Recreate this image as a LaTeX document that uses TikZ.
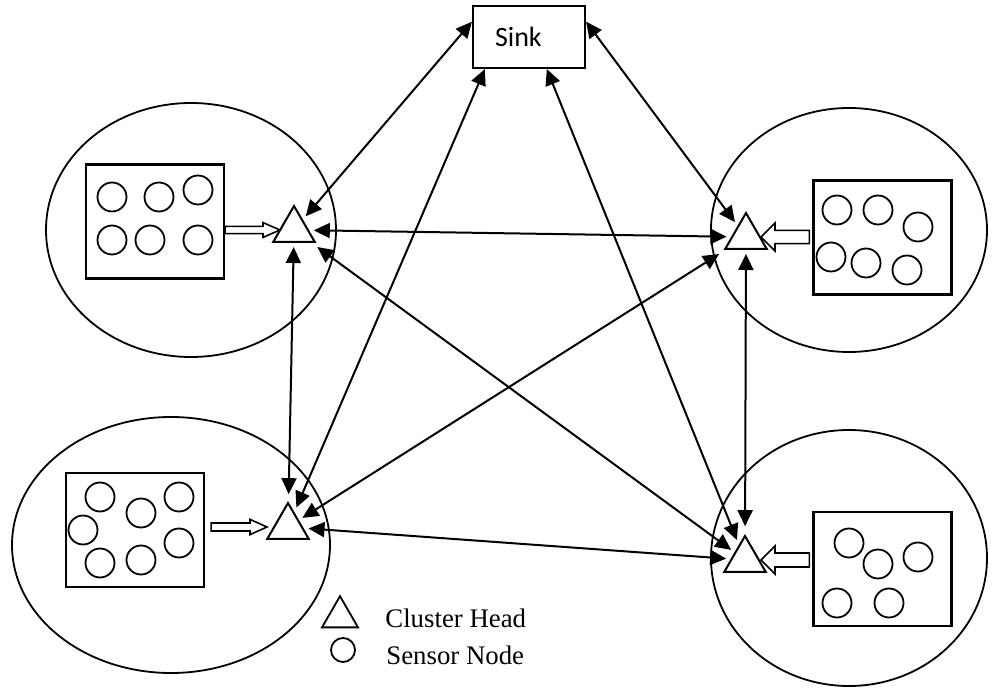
\documentclass[tikz,border=0pt]{standalone}
\usepackage{fontspec}
\setmainfont{Liberation Serif}
\newfontfamily\sinkfont{Carlito}
\usetikzlibrary{arrows.meta,shapes.geometric,calc}

\newcommand{\hollowarrow}[5]{%
  \draw[line width=0.8pt, fill=white] let \p1=#1, \p2=#2 in
    ({\x1},{\y1+#3}) -- ({\x2-(#5)},{\y1+#3}) -- ({\x2-(#5)},{\y1+#4}) -- ({\x2},{\y1})
    -- ({\x2-(#5)},{\y1-#4}) -- ({\x2-(#5)},{\y1-#3}) -- ({\x1},{\y1-#3}) -- cycle;}

\begin{document}
\begin{tikzpicture}[x=0.5pt, y=-0.5pt,
  boxnode/.style={draw, line width=1.1pt, minimum width=69pt, minimum height=57pt, inner sep=0pt},
  headnode/.style={draw, line width=1pt, regular polygon, regular polygon sides=3, minimum size=24pt, inner sep=0pt, outer sep=2.5pt},
  link/.style={{Triangle[length=8pt,width=7.5pt]}-{Triangle[length=8pt,width=7.5pt]}, line width=1pt}]

\useasboundingbox (0,0) rectangle (992,689);

\draw[line width=0.9pt] (191,230) ellipse [x radius=145, y radius=127];
\draw[line width=0.9pt] (849,230) ellipse [x radius=138, y radius=122];
\draw[line width=0.9pt] (171,545) ellipse [x radius=159, y radius=128];
\draw[line width=0.9pt] (849,558) ellipse [x radius=138, y radius=128];

\node[draw, line width=1.1pt, text width=34pt, inner xsep=11pt, minimum height=31pt, align=left, font=\sinkfont\fontsize{14}{16}\selectfont] (sink) at (529,37) {Sink};

\node[boxnode] (boxTL) at (155,221.5) {};
\node[boxnode] (boxTR) at (882.5,237.5) {};
\node[boxnode] (boxBL) at (135,530) {};
\node[boxnode] (boxBR) at (882.5,569) {};

\foreach \p in {(112,197),(159,197),(198,190),(112,240),(150,240),(198,240),
  (837,210),(878,210),(918,227),(831,257),(866,263),(907,270),
  (100,497),(141,513),(179,497),(83,530),(179,543),(100,563),(141,560),
  (849,543),(878,564),(918,557),(837,603),(889,603)}
  \draw[line width=0.9pt] \p circle [radius=14.5];

\node[headnode] (chTL) at (294,230) {};
\node[headnode] (chTR) at (746,237) {};
\node[headnode] (chBL) at (288,527) {};
\node[headnode] (chBR) at (745,560) {};

\hollowarrow{(boxTL.east |- chTL)}{($(chTL)+(-7pt,0)$)}{1.8pt}{3.7pt}{8.5pt}
\hollowarrow{($(boxTR.west |- chTR)+(-1.5pt,0)$)}{($(chTR)+(7.5pt,0)$)}{3.3pt}{7pt}{-7pt}
\hollowarrow{($(boxBL.east |- chBL)+(3pt,0)$)}{($(chBL)+(-10.5pt,0)$)}{2pt}{3.8pt}{8.5pt}
\hollowarrow{($(boxBR.west |- chBR)+(-1.5pt,0)$)}{($(chBR)+(8pt,0)$)}{3.5pt}{7pt}{-7pt}

\draw[link] (sink.165) -- (chTL);
\draw[link] (sink.15) -- (chTR);
\draw[link] (sink.216) -- (chBL);
\draw[link] (sink.299) -- (chBR);
\draw[link] (chTL) -- (chTR);
\draw[link] (chTL) -- (chBL);
\draw[link] (chTL) -- (chBR);
\draw[link] (chTR) -- (chBL);
\draw[link] (chTR) -- (chBR);
\draw[link] (chBL) -- (chBR);

\node[draw, line width=0.9pt, regular polygon, regular polygon sides=3, minimum size=20.8pt, inner sep=0pt] (legHead) at (340,617) {};
\draw[line width=0.9pt] (343,650) circle [radius=12];
\node[anchor=base west, inner sep=0pt, font=\fontsize{13.4}{16}\selectfont] (legHeadText) at (385,628) {Cluster Head};
\node[anchor=base west, inner sep=0pt, font=\fontsize{13.4}{16}\selectfont] (legNodeText) at (386,665) {Sensor Node};

\end{tikzpicture}
\end{document}
